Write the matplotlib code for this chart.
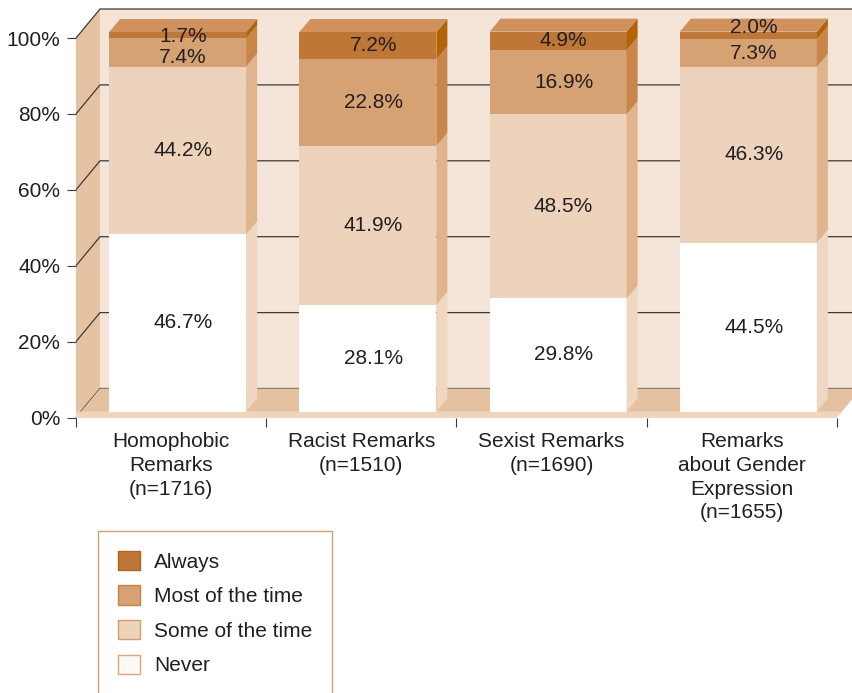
import matplotlib
matplotlib.use('Agg')
import matplotlib.pyplot as plt
import matplotlib.transforms as mtransforms
from matplotlib.patches import Polygon, Patch

plt.rcParams['font.family'] = ['Liberation Sans', 'DejaVu Sans']

# ---------------- data ----------------
categories = ["Homophobic\nRemarks\n(n=1716)", "Racist Remarks\n(n=1510)",
              "Sexist Remarks\n(n=1690)", "Remarks\nabout Gender\nExpression\n(n=1655)"]
series_names = ["Never", "Some of the time", "Most of the time", "Always"]
never = [46.7, 28.1, 29.8, 44.5]
some = [44.2, 41.9, 48.5, 46.3]
most = [7.4, 22.8, 16.9, 7.3]
always = [1.7, 7.2, 4.9, 2.0]
yticks = [0, 20, 40, 60, 80, 100]
ytick_labels = ["0%", "20%", "40%", "60%", "80%", "100%"]

series = [never, some, most, always]

# ---------------- style ----------------
front_colors = ['#ffffff', '#edd3bb', '#d7a273', '#bf7737']
side_colors = ['#efd7c2', '#e0b48d', '#c8864b', '#b36308']
top_color = '#d0915f'
legend_face = ['#fdfaf6', '#eed3bb', '#d7a273', '#bf7737']
legend_edge = ['#d9a878', '#d49c66', '#c0844c', '#b0651f']
txt = '#231f20'
grid_c = '#3a3a3a'
# small vertical nudges (pixels, + = down) for crowded labels: (bar, series)
label_nudge = {(0, 2): 5, (0, 3): 1, (3, 3): -8}

W, H = 853, 693
fig = plt.figure(figsize=(W / 100, H / 100), dpi=100)
L, R, B0, T100 = 76, 837, 417.5, 38
ax = fig.add_axes([L / W, (H - B0) / H, (R - L) / W, (B0 - T100) / H])
ax.set_xlim(-0.5, 3.5)
ax.set_ylim(0, 100)
ax.patch.set_visible(False)
for s in ax.spines.values():
    s.set_visible(False)

PX = (R - L) / 4.0
PY = (B0 - T100) / 100.0
def dx(p): return p / PX
def dy(p): return p / PY

DX, DY = dx(24), dy(29)

# back wall
ax.add_patch(Polygon([(-0.5 + DX, DY), (4.2, DY), (4.2, 100 + DY), (-0.5 + DX, 100 + DY)],
                     closed=True, facecolor='#f5e4d8', edgecolor='none', clip_on=False, zorder=1))
# left wall
ax.add_patch(Polygon([(-0.5, 0), (-0.5 + DX, DY), (-0.5 + DX, 100 + DY), (-0.5, 100)],
                     closed=True, facecolor='#e5c3a2', edgecolor='none', clip_on=False, zorder=1))
# gridlines
for v in yticks:
    ax.plot([-0.5, -0.5 + DX, 4.2], [v, v + DY, v + DY], color=grid_c, lw=0.9,
            clip_on=False, zorder=2, solid_capstyle='butt')
# floor
ax.add_patch(Polygon([(-0.5, 0), (3.5, 0), (3.5 + DX, DY), (-0.5 + DX, DY)],
                     closed=True, facecolor='#e4c19f', edgecolor='none', clip_on=False, zorder=3))
ax.add_patch(Polygon([(-0.5, 0), (3.5, 0), (3.5 + dx(5), dy(6)), (-0.5, dy(6))],
                     closed=True, facecolor='#efd5bc', edgecolor='none', clip_on=False, zorder=3))

# bars (shifted slightly into the box)
shift = mtransforms.ScaledTranslation(6.5 / 100, 6 / 100, fig.dpi_scale_trans)
btrans = ax.transData + shift
bw = dx(137)
bdx, bdy = dx(11), dy(13)
x = list(range(len(categories)))
bottoms = [0.0] * len(categories)
for k, vals in enumerate(series):
    ax.bar(x, vals, bottom=bottoms, width=bw, color=front_colors[k], edgecolor='none',
           transform=btrans, zorder=4, clip_on=False)
    for i, v in enumerate(vals):
        b = bottoms[i]
        t = b + v
        xr = i + bw / 2
        ax.add_patch(Polygon([(xr, b), (xr + bdx, b + bdy), (xr + bdx, t + bdy), (xr, t)],
                             closed=True, facecolor=side_colors[k], edgecolor='none',
                             transform=btrans, clip_on=False, zorder=4))
        ny = -dy(label_nudge.get((i, k), 0))
        ax.text(i + bdx / 2, b + v / 2 + ny, f"{v:.1f}%", ha='center', va='center',
                fontsize=15, color=txt, transform=btrans, zorder=6)
    bottoms = [bottoms[i] + vals[i] for i in range(len(vals))]
# top faces
for i in x:
    t = bottoms[i]
    xl = i - bw / 2
    xr = i + bw / 2
    ax.add_patch(Polygon([(xl, t), (xr, t), (xr + bdx, t + bdy), (xl + bdx, t + bdy)],
                         closed=True, facecolor=top_color, edgecolor='none',
                         transform=btrans, clip_on=False, zorder=5))

# axes ticks
ax.set_yticks(yticks)
ax.set_yticklabels(ytick_labels)
ax.tick_params(axis='y', length=6.5, width=0.8, color=grid_c, pad=5,
               labelsize=15, labelcolor=txt)
ax.set_xticks(x)
ax.set_xticklabels(categories, linespacing=1.32)
ax.set_xticks([-0.5, 0.5, 1.5, 2.5, 3.5], minor=True)
ax.tick_params(axis='x', which='major', length=0, pad=10.5, labelsize=15, labelcolor=txt)
ax.tick_params(axis='x', which='minor', length=6.5, width=0.8, color=grid_c)

# legend
order = [3, 2, 1, 0]
handles = [Patch(facecolor=legend_face[k], edgecolor=legend_edge[k], linewidth=1) for k in order]
labels = [series_names[k] for k in order]
leg = fig.legend(handles, labels, loc='upper left', bbox_to_anchor=(98 / W, 1 - 531 / H),
                 bbox_transform=fig.transFigure, frameon=True, fancybox=False,
                 fontsize=15, handlelength=1.06, handleheight=1.06, handletextpad=0.68,
                 labelspacing=0.66, borderpad=0.95, borderaxespad=0)
leg.get_frame().set_edgecolor('#c98b4e')
leg.get_frame().set_linewidth(1)
for t in leg.get_texts():
    t.set_color(txt)

fig.savefig('out.png', dpi=100)
